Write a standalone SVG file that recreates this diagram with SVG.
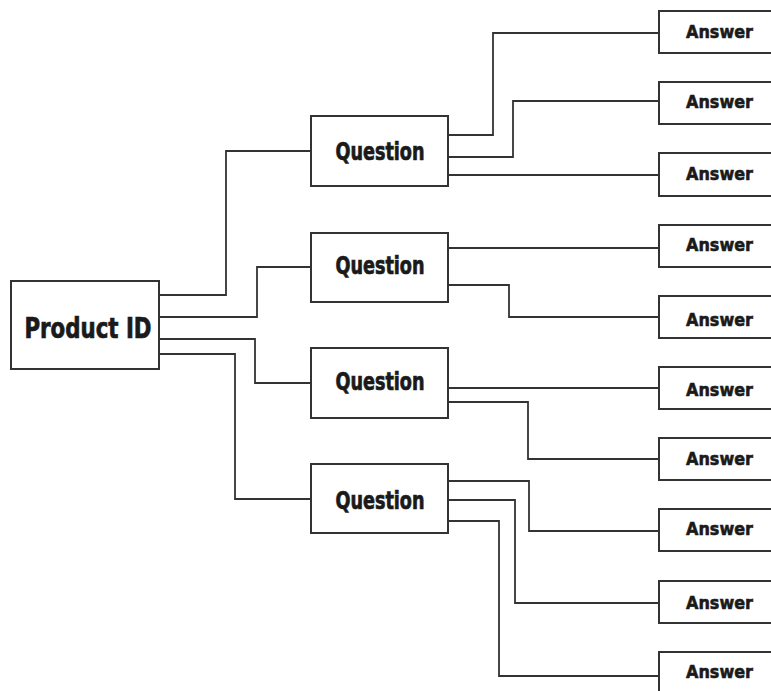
<svg xmlns="http://www.w3.org/2000/svg" width="771" height="691" viewBox="0 0 771 691">
  <style>
    .box { fill: #ffffff; stroke: #333333; stroke-width: 2; }
    .wire { fill: none; stroke: #333333; stroke-width: 1.8; }
    .t-main { font-family: "DejaVu Sans Condensed", "DejaVu Sans", sans-serif; font-weight: bold; fill: #1a1a1a; stroke: #1a1a1a; stroke-width: 0.7; text-anchor: middle; }
    .t-ans { font-family: "DejaVu Sans", "Liberation Sans", sans-serif; font-weight: bold; font-size: 18px; fill: #1a1a1a; stroke: #1a1a1a; stroke-width: 0.6; text-anchor: middle; }
  </style>
  <rect width="771" height="691" fill="#ffffff"/>

  <!-- connectors -->
  <g id="connectors" class="wire">
    <!-- product -> questions -->
    <polyline points="160,295 226,295 226,151 311,151"/>
    <polyline points="160,317 257,317 257,267 311,267"/>
    <polyline points="160,339 255,339 255,383 311,383"/>
    <polyline points="160,354 235,354 235,499 311,499"/>
    <!-- question 1 -> answers -->
    <polyline points="448,135 493,135 493,33 659,33"/>
    <polyline points="448,157 513,157 513,101 659,101"/>
    <polyline points="448,175 659,175"/>
    <!-- question 2 -> answers -->
    <polyline points="448,248 659,248"/>
    <polyline points="448,285 509,285 509,317 659,317"/>
    <!-- question 3 -> answers -->
    <polyline points="448,388 659,388"/>
    <polyline points="448,402 528,402 528,459 659,459"/>
    <!-- question 4 -> answers -->
    <polyline points="448,481 529,481 529,531 659,531"/>
    <polyline points="448,500 515,500 515,603 659,603"/>
    <polyline points="448,521 499,521 499,676 659,676"/>
  </g>

  <g id="product">
    <rect class="box" x="11" y="281" width="148" height="88"/>
    <text class="t-main" x="88" y="338" font-size="28" textLength="127" lengthAdjust="spacingAndGlyphs">Product ID</text>
  </g>

  <g id="q1">
    <rect class="box" x="311" y="116" width="137" height="70"/>
    <text class="t-main" x="380" y="160" font-size="24" textLength="89" lengthAdjust="spacingAndGlyphs">Question</text>
  </g>
  <g id="q2">
    <rect class="box" x="311" y="233" width="137" height="69"/>
    <text class="t-main" x="380" y="274" font-size="24" textLength="89" lengthAdjust="spacingAndGlyphs">Question</text>
  </g>
  <g id="q3">
    <rect class="box" x="311" y="348" width="137" height="70"/>
    <text class="t-main" x="380" y="390" font-size="24" textLength="89" lengthAdjust="spacingAndGlyphs">Question</text>
  </g>
  <g id="q4">
    <rect class="box" x="311" y="464" width="137" height="69"/>
    <text class="t-main" x="380" y="509" font-size="24" textLength="89" lengthAdjust="spacingAndGlyphs">Question</text>
  </g>

  <g id="a1"><rect class="box" x="659" y="11" width="130" height="42"/><text class="t-ans" x="719.5" y="38" textLength="67" lengthAdjust="spacingAndGlyphs">Answer</text></g>
  <g id="a2"><rect class="box" x="659" y="82" width="130" height="42"/><text class="t-ans" x="719.5" y="108" textLength="67" lengthAdjust="spacingAndGlyphs">Answer</text></g>
  <g id="a3"><rect class="box" x="659" y="153" width="130" height="43"/><text class="t-ans" x="719.5" y="180" textLength="67" lengthAdjust="spacingAndGlyphs">Answer</text></g>
  <g id="a4"><rect class="box" x="659" y="225" width="130" height="42"/><text class="t-ans" x="719.5" y="251" textLength="67" lengthAdjust="spacingAndGlyphs">Answer</text></g>
  <g id="a5"><rect class="box" x="659" y="296" width="130" height="42"/><text class="t-ans" x="719.5" y="326" textLength="67" lengthAdjust="spacingAndGlyphs">Answer</text></g>
  <g id="a6"><rect class="box" x="659" y="367" width="130" height="42"/><text class="t-ans" x="719.5" y="396" textLength="67" lengthAdjust="spacingAndGlyphs">Answer</text></g>
  <g id="a7"><rect class="box" x="659" y="438" width="130" height="42"/><text class="t-ans" x="719.5" y="465" textLength="67" lengthAdjust="spacingAndGlyphs">Answer</text></g>
  <g id="a8"><rect class="box" x="659" y="509" width="130" height="42"/><text class="t-ans" x="719.5" y="535" textLength="67" lengthAdjust="spacingAndGlyphs">Answer</text></g>
  <g id="a9"><rect class="box" x="659" y="581" width="130" height="42"/><text class="t-ans" x="719.5" y="609" textLength="67" lengthAdjust="spacingAndGlyphs">Answer</text></g>
  <g id="a10"><rect class="box" x="659" y="652" width="130" height="50"/><text class="t-ans" x="719.5" y="678" textLength="67" lengthAdjust="spacingAndGlyphs">Answer</text></g>
</svg>
